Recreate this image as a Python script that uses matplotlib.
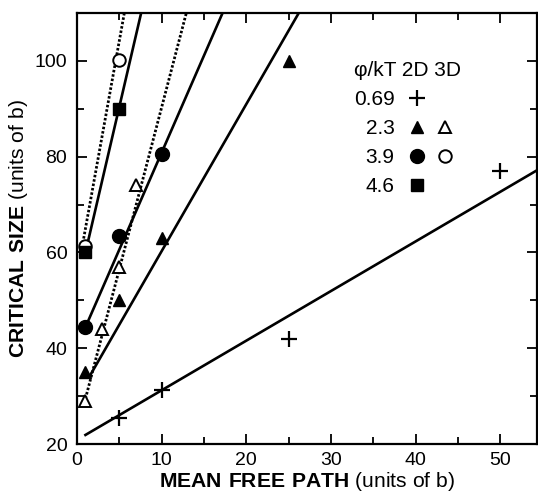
import numpy as np
import matplotlib
matplotlib.use("Agg")
import matplotlib.pyplot as plt
from matplotlib.lines import Line2D
from matplotlib.ticker import MultipleLocator

plt.rcParams["font.family"] = ["Liberation Sans", "DejaVu Sans"]
plt.rcParams["mathtext.fontset"] = "custom"
plt.rcParams["mathtext.rm"] = "Liberation Sans"
plt.rcParams["mathtext.bf"] = "Liberation Sans:bold"

# data
plus_x = [5, 10, 25, 50]          # phi/kT = 0.69
plus_y = [25.5, 31.3, 42, 77]
tri2d_x = [1, 5, 10, 25]          # 2.3, 2D
tri2d_y = [35, 50, 63, 100]
tri3d_x = [1, 3, 5, 7]            # 2.3, 3D
tri3d_y = [29, 44, 57, 74]
circ2d_x = [1, 5, 10]             # 3.9, 2D
circ2d_y = [44.4, 63.5, 80.5]
circ3d_x = [1, 5]                 # 3.9, 3D
circ3d_y = [61.3, 100.2]
sq_x = [1, 5]                     # 4.6
sq_y = [60, 90]

# fitted lines: (slope, intercept, x start, dotted?)
fit_slope = [1.036, 3.07, 6.76, 4.05, 9.8, 7.6]
fit_icept = [20.86, 29.57, 22.7, 40.35, 55.2, 52.4]
fit_x0 = [1.0, 1.45, 1.0, 1.0, 0.6, 1.0]
fit_dotted = [False, False, True, False, True, False]

fig = plt.figure(figsize=(5.38, 4.97), dpi=100)
ax = fig.add_axes([0.1431, 0.1066, 0.999 - 0.1431, 0.9738 - 0.1066])

for m, b, x0, dot in zip(fit_slope, fit_icept, fit_x0, fit_dotted):
    xs = np.array([x0, 60])
    if dot:
        ax.plot(xs, m * xs + b, color="black", lw=2.0, ls=(0, (0.9, 0.7)), zorder=2)
    else:
        ax.plot(xs, m * xs + b, color="black", lw=1.9, zorder=2)

ms = 9
mk_plus = dict(ls="none", marker="+", ms=12, mew=1.6, color="black")
mk_tri2 = dict(ls="none", marker="^", ms=ms, color="black")
mk_tri3 = dict(ls="none", marker="^", ms=ms - 1, mfc="white", mec="black", mew=1.4)
mk_circ2 = dict(ls="none", marker="o", ms=ms + 1, color="black")
mk_circ3 = dict(ls="none", marker="o", ms=ms, mfc="white", mec="black", mew=1.4)
mk_sq = dict(ls="none", marker="s", ms=ms, color="black")

ax.plot(plus_x, plus_y, zorder=3, **mk_plus)
ax.plot(tri2d_x, tri2d_y, zorder=3, **mk_tri2)
ax.plot(tri3d_x, tri3d_y, zorder=3, **mk_tri3)
ax.plot(circ2d_x, circ2d_y, zorder=3, **mk_circ2)
ax.plot(circ3d_x, circ3d_y, zorder=3, **mk_circ3)
ax.plot(sq_x, sq_y, zorder=3, **mk_sq)

ax.set_xlim(0, 54.4)
ax.set_ylim(20, 110)
ax.xaxis.set_major_locator(MultipleLocator(10))
ax.xaxis.set_minor_locator(MultipleLocator(5))
ax.yaxis.set_major_locator(MultipleLocator(20))
ax.yaxis.set_minor_locator(MultipleLocator(10))
ax.tick_params(which="both", direction="in", top=True, right=True, labelsize=14, width=1.3)
ax.tick_params(which="major", length=7)
ax.tick_params(which="minor", length=5)
ax.tick_params(axis="x", pad=6)
ax.tick_params(axis="y", pad=7)
for s in ax.spines.values():
    s.set_linewidth(1.6)

ax.set_xlabel(r"$\bf{MEAN\ FREE\ PATH}$ (units of b)", fontsize=15.2, labelpad=0.5)
ax.set_ylabel(r"$\bf{CRITICAL\ SIZE}$ (units of b)", fontsize=15.2, labelpad=3)

blank = Line2D([], [], ls="none", marker="")
handles = [
    Line2D([], [], **mk_plus),
    Line2D([], [], **mk_tri2),
    Line2D([], [], **mk_circ2),
    Line2D([], [], **mk_sq),
    blank,
    Line2D([], [], **mk_tri3),
    Line2D([], [], **mk_circ3),
    blank,
]
labels = ["0.69", "2.3", "3.9", "4.6", "", "", "", ""]
leg = ax.legend(handles, labels, ncol=2, markerfirst=False, frameon=False,
                title="\u03c6/kT 2D 3D", title_fontsize=15, fontsize=15,
                alignment="left", loc="upper left",
                bbox_to_anchor=(354 / 538, 1 - 61 / 497), bbox_transform=fig.transFigure,
                borderpad=0, borderaxespad=0, handlelength=0.8, handletextpad=0.67,
                columnspacing=-0.15, labelspacing=0.48)

fig.savefig("out.png", dpi=100)
